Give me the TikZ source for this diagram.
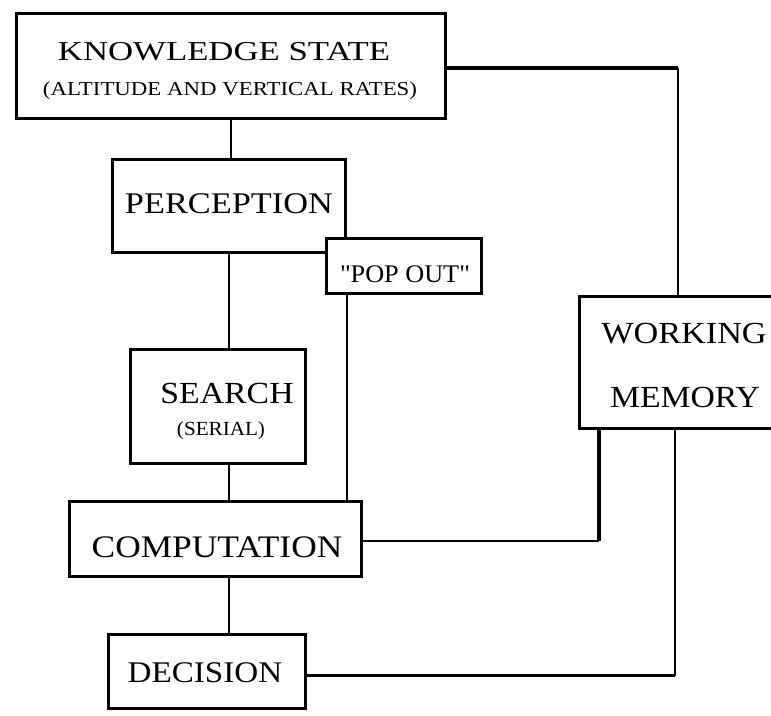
\documentclass[tikz,border=0pt]{standalone}
\usepackage{graphicx}
\usepackage{fontspec}
\setmainfont{Liberation Serif}
\tikzset{
  box/.style={draw, line width=2.3pt, fill=white, inner sep=0pt},
  lbl/.style={anchor=base, inner sep=0pt},
  thinline/.style={line width=1.3pt},
  thickline/.style={line width=2.3pt}
}
\newcommand\fitlabel[3]{\fontsize{#1}{#1}\selectfont\resizebox{#2}{\height}{#3}}
\begin{document}
\begin{tikzpicture}[x=0.75pt,y=-0.75pt]
\clip (0,0) rectangle (771,715);
\fill[white] (0,0) rectangle (771,715);
% boxes
\node[box, minimum width=321.75pt, minimum height=78.75pt] (ks) at (231,66) {};
\node[box, minimum width=174.75pt, minimum height=69.75pt] (perc) at (229,206) {};
\node[box, minimum width=116.25pt, minimum height=41.25pt] (pop) at (404,266) {};
\node[box, minimum width=131.25pt, minimum height=85.5pt] (search) at (218,406.5) {};
\node[box, minimum width=219pt, minimum height=56.25pt] (comp) at (215.5,539) {};
\node[box, minimum width=158.25pt, minimum height=99pt] (wm) at (685,362.5) {};
\node[box, minimum width=147.75pt, minimum height=55.5pt] (dec) at (207,671.5) {};
% labels
\node[lbl] (kst) at (224,60) {\fitlabel{20.5}{249pt}{KNOWLEDGE STATE}};
\node[lbl] (kss) at (230,95) {\fitlabel{14.8}{280.5pt}{(ALTITUDE AND VERTICAL RATES)}};
\node[lbl] (perct) at (229,213) {\fitlabel{22.5}{156pt}{PERCEPTION}};
\node[lbl] (popt) at (405,282) {\fitlabel{19}{97.5pt}{\textquotedbl POP OUT\textquotedbl}};
\node[lbl] (searcht) at (227,403) {\fitlabel{23}{100pt}{SEARCH}};
\node[lbl] (serialt) at (221,435) {\fitlabel{15}{66pt}{(SERIAL)}};
\node[lbl] (compt) at (217,557) {\fitlabel{23.5}{188pt}{COMPUTATION}};
\node[lbl] (wmt1) at (684,343) {\fitlabel{23}{124pt}{WORKING}};
\node[lbl] (wmt2) at (685,407) {\fitlabel{23}{112.5pt}{MEMORY}};
\node[lbl] (dect) at (205,682) {\fitlabel{22.5}{116pt}{DECISION}};
% connector anchor points
\coordinate (wmtop) at ([xshift=-5.25pt]wm.north);
\coordinate (wmleft) at ([xshift=15.75pt]wm.south west);
\coordinate (wmright) at ([xshift=-7.5pt]wm.south);
\coordinate (decout) at ([yshift=-3pt]dec.east);
\coordinate (ksout) at ([yshift=-1.5pt]ks.east);
\coordinate (compout) at ([yshift=-1.5pt]comp.east);
% vertical chain
\draw[thinline] (ks.south) -- (ks.south |- perc.north);
\draw[thinline] (perc.south) -- (perc.south |- search.north);
\draw[thinline] (perc.south |- search.south) -- (perc.south |- comp.north);
\draw[thinline] (pop.south -| perc.east) -- (comp.north -| perc.east);
\draw[thinline] (perc.south |- comp.south) -- (perc.south |- dec.north);
% to working memory
\draw[thickline] (ksout) -- (ksout -| wmtop);
\draw[thinline] (ksout -| wmtop) -- (wmtop);
\draw[thinline] (compout) -- (compout -| wmleft);
\draw[thickline] (compout -| wmleft) -- (wmleft);
\draw[thickline] (decout) -- (decout -| wmright);
\draw[thinline] (decout -| wmright) -- (wmright);
\end{tikzpicture}
\end{document}
